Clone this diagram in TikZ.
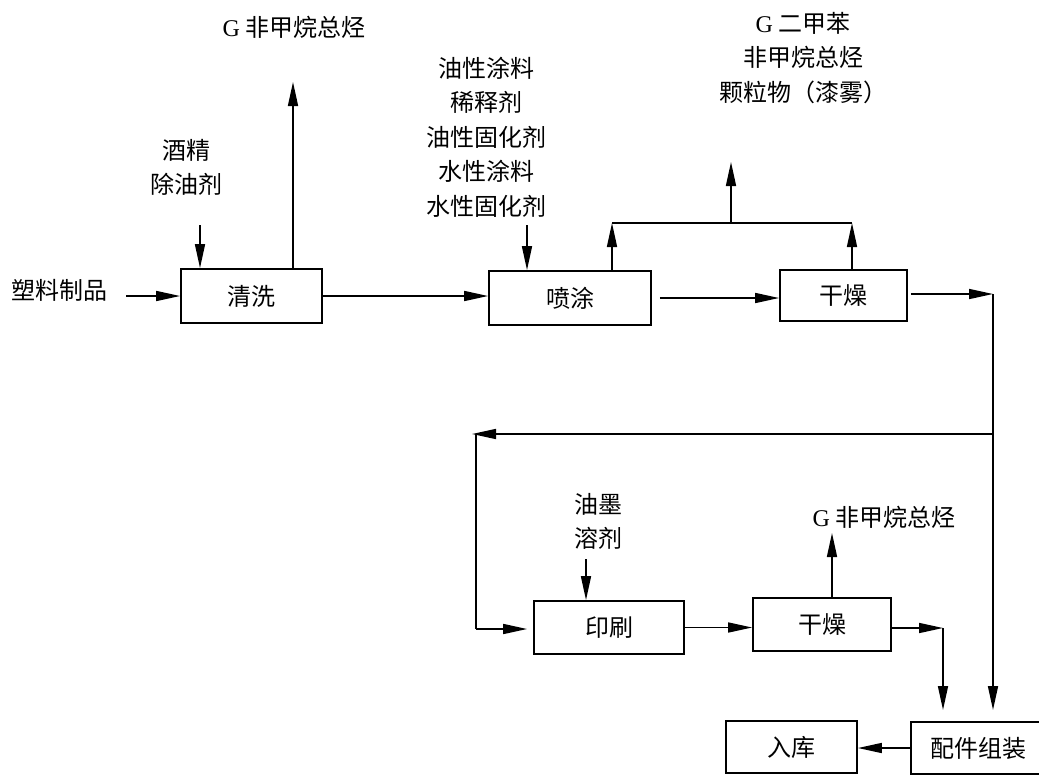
\documentclass[tikz,border=0pt]{standalone}
\usepackage{fontspec}
\setmainfont{Liberation Serif}
\newfontfamily\cjk{Noto Sans CJK SC}
\usetikzlibrary{arrows.meta,calc}
\begin{document}
\begin{tikzpicture}[x=1pt,y=-1pt,
  box/.style={draw,line width=1.8pt,inner sep=0pt,font=\cjk\fontsize{24}{30}\selectfont},
  lbl/.style={inner sep=0pt,align=center,font=\cjk\fontsize{24}{34.5}\selectfont},
  ln/.style={line width=1.6pt},
  arr/.style={line width=1.6pt,-{Triangle[length=24pt,width=10pt]}}]
\useasboundingbox (0,0) rectangle (1039,774);
% process boxes
\node[box,minimum width=141pt,minimum height=54pt] (qx) at (251.5,296) {清洗};
\node[box,minimum width=162pt,minimum height=54pt] (pt) at (570,298) {喷涂};
\node[box,minimum width=127pt,minimum height=51pt] (g1) at (843.5,295.5) {干燥};
\node[box,minimum width=150pt,minimum height=53pt] (ys) at (609,627.5) {印刷};
\node[box,minimum width=138pt,minimum height=53pt] (g2) at (822,624.5) {干燥};
\node[box,minimum width=131pt,minimum height=52pt] (rk) at (791.5,747) {入库};
\node[box,minimum width=134pt,minimum height=52pt] (pj) at (978,748) {配件组装};
% labels
\node[lbl] (gtop) at (294,27) {{\rmfamily G} 非甲烷总烃};
\node[lbl] (jj) at (186,167.5) {酒精\\除油剂};
\node[lbl] (sl) at (60,290) {塑料制品};
\node[lbl] (mats) at (486,137) {油性涂料\\稀释剂\\油性固化剂\\水性涂料\\水性固化剂};
\node[lbl] (gb) at (803,58) {{\rmfamily G} 二甲苯\\非甲烷总烃\\颗粒物（漆雾）};
\node[lbl] (ym) at (598,521.5) {油墨\\溶剂};
\node[lbl] (g3) at (884,517) {{\rmfamily G} 非甲烷总烃};
% coordinates
\coordinate (slA) at (126,296);
\coordinate (jjA) at (200,225);
\coordinate (gtA) at (293,82);
\coordinate (maA) at (527,225);
\coordinate (j1) at (612,223);
\coordinate (j2) at (852,223);
\coordinate (j3) at (731,223);
\coordinate (gbA) at (731,162);
\coordinate (m1) at (993,294);
\coordinate (m2) at (993,710);
\coordinate (m3) at (993,434);
\coordinate (f1) at (472,434);
\coordinate (f0) at (476,434);
\coordinate (f2) at (476,629);
\coordinate (ymA) at (586,559);
\coordinate (g3A) at (832,533);
\coordinate (c1) at (943,628);
\coordinate (c2) at (943,710);
% connectors
\draw[arr] (slA) -- (qx.west);
\draw[arr] (jjA) -- (jjA |- qx.north);
\draw[arr] (qx.north -| gtA) -- (gtA);
\draw[arr] (qx.east) -- (qx.east -| pt.west);
\draw[arr] (maA) -- (maA |- pt.north);
\draw[arr] (pt.north -| j1) -- (j1);
\draw[arr] (g1.north -| j2) -- (j2);
\draw[ln] (j1) -- (j2);
\draw[arr] (j3) -- (gbA);
\draw[arr] ([xshift=8pt]pt.east) -- (pt.east -| g1.west);
\draw[arr] ([xshift=3pt]g1.east |- m1) -- (m1);
\draw[arr] (m1) -- (m2);
\draw[arr] (m3) -- (f1);
\draw[ln] (f0) -- (f2);
\draw[arr] (f2) -- ([xshift=-6pt]ys.west |- f2);
\draw[arr] (ymA) -- (ymA |- ys.north);
\draw[arr] (ys.east) -- (ys.east -| g2.west);
\draw[arr] (g2.north -| g3A) -- (g3A);
\draw[arr] (g2.east |- c1) -- (c1);
\draw[arr] (c1) -- (c2);
\draw[arr] (pj.west) -- (pj.west -| rk.east);
\end{tikzpicture}
\end{document}
